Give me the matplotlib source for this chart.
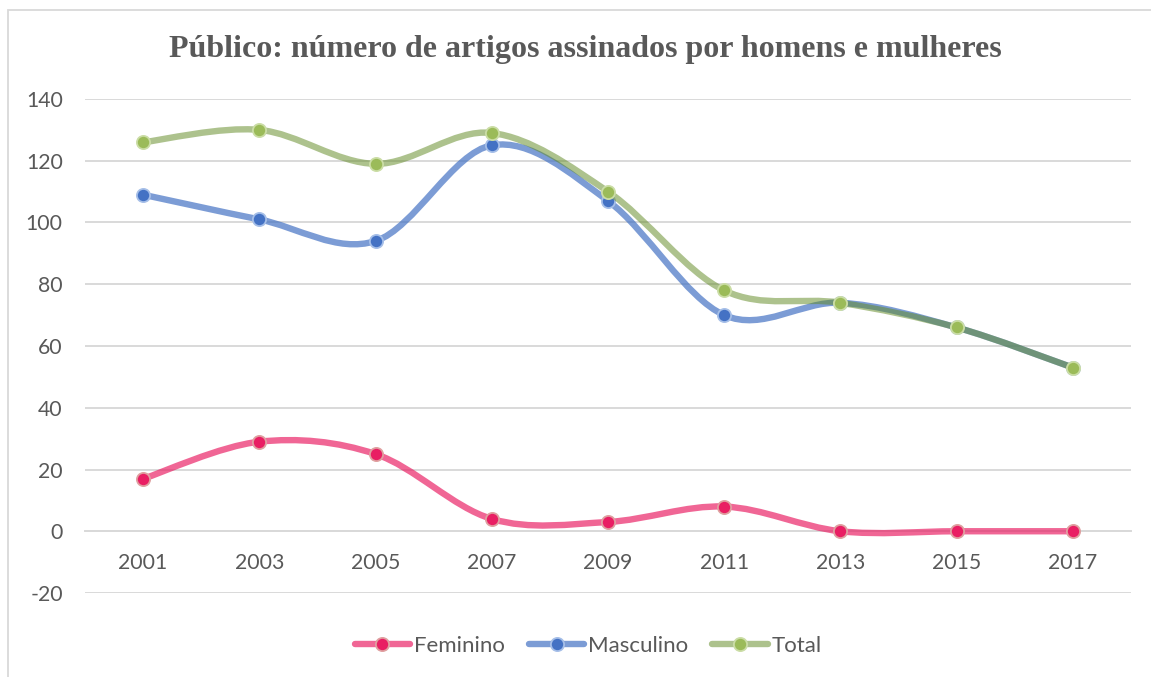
# Público: artigos assinados por homens e mulheres, 2001-2017
# Excel-style chart: smoothed lines with markers, light grid, legend below

import matplotlib.pyplot as plt
from matplotlib.lines import Line2D
from matplotlib.patches import PathPatch, Rectangle
from matplotlib.path import Path

anos = ['2001', '2003', '2005', '2007', '2009', '2011', '2013', '2015', '2017']
feminino = [17, 29, 25, 4, 3, 8, 0, 0, 0]
masculino = [109, 101, 94, 125, 107, 70, 74, 66, 53]
total = [126, 130, 119, 129, 110, 78, 74, 66, 53]
y_ticks = [-20, 0, 20, 40, 60, 80, 100, 120, 140]

titulo = 'Público: número de artigos assinados por homens e mulheres'

W, H = 1151, 677
grid_color = '#D9D9D9'
text_color = '#595959'

series = [
    ('Feminino', feminino, (233 / 255, 30 / 255, 99 / 255, 0.68), '#E91E63', '#DFA0A0'),
    ('Masculino', masculino, (68 / 255, 114 / 255, 196 / 255, 0.70), '#4472C4', '#A6BFE8'),
    ('Total', total, (100 / 255, 140 / 255, 40 / 255, 0.53), '#9BBB59', '#CBDDA6'),
]


def smooth_path(xs, ys):
    """Bezier path through the points, Catmull-Rom style control points (like Excel smoothing)."""
    pts = list(zip(xs, ys))
    n = len(pts)
    verts = [pts[0]]
    codes = [Path.MOVETO]
    for i in range(n - 1):
        p0 = pts[max(i - 1, 0)]
        p1 = pts[i]
        p2 = pts[i + 1]
        p3 = pts[min(i + 2, n - 1)]
        c1 = (p1[0] + (p2[0] - p0[0]) / 6, p1[1] + (p2[1] - p0[1]) / 6)
        c2 = (p2[0] - (p3[0] - p1[0]) / 6, p2[1] - (p3[1] - p1[1]) / 6)
        verts += [c1, c2, p2]
        codes += [Path.CURVE4] * 3
    return Path(verts, codes)


fig = plt.figure(figsize=(W / 100, H / 100), dpi=100)
fig.patch.set_facecolor('white')

# chart area border (cut off at the right and bottom edges, as in the picture)
fig.patches.append(Rectangle((8 / W, -0.1), 1.2, 1 - 10 / H + 0.1, transform=fig.transFigure,
                             fill=False, edgecolor=grid_color, linewidth=1.3))

ax = fig.add_axes([85 / W, 1 - 593 / H, (1131 - 85) / W, (593 - 99) / H])
x = list(range(len(anos)))
ax.set_xlim(-0.5, len(anos) - 0.5)
ax.set_ylim(-20, 140)
ax.set_yticks(y_ticks)
ax.set_yticklabels([str(v) for v in y_ticks])
ax.yaxis.grid(True, color=grid_color, linewidth=1.4)
ax.set_axisbelow(True)
for side in ['left', 'right', 'top']:
    ax.spines[side].set_visible(False)
ax.spines['bottom'].set_position(('data', 0))
ax.spines['bottom'].set_color(grid_color)
ax.spines['bottom'].set_linewidth(1.4)
ax.set_xticks(x)
ax.set_xticklabels(anos)
ax.tick_params(axis='both', length=0, labelsize=15.3, labelcolor=text_color)
ax.tick_params(axis='y', pad=16)
ax.tick_params(axis='x', pad=16)
for lab in ax.get_xticklabels() + ax.get_yticklabels():
    lab.set_fontfamily('Lato')

z = 3
handles = []
for name, values, line_col, face, edge in series:
    patch = PathPatch(smooth_path(x, values), fill=False, edgecolor=line_col, linewidth=4.6,
                      capstyle='round', joinstyle='round', zorder=z)
    ax.add_patch(patch)
    ax.plot(x, values, 'o', markersize=9.5, markerfacecolor=face, markeredgecolor=edge,
            markeredgewidth=1.3, zorder=z + 1, clip_on=False)
    z += 2
    handles.append(Line2D([0], [0], color=line_col, linewidth=4.6, solid_capstyle='round',
                          marker='o', markersize=9.5, markerfacecolor=face,
                          markeredgecolor=edge, markeredgewidth=1.3, label=name))

fig.text(585 / W, 1 - 50 / H, titulo, ha='center', va='center', fontsize=23,
         fontweight='bold', family='Liberation Serif', color=text_color)

fig.legend(handles=handles, loc='center', bbox_to_anchor=(588 / W, 1 - 646 / H), ncol=3,
           frameon=False, handlelength=2.5, handletextpad=0.15, columnspacing=1.1,
           prop={'family': 'Lato', 'size': 16}, labelcolor=text_color)

fig.savefig('out.png', dpi=100, facecolor='white')
